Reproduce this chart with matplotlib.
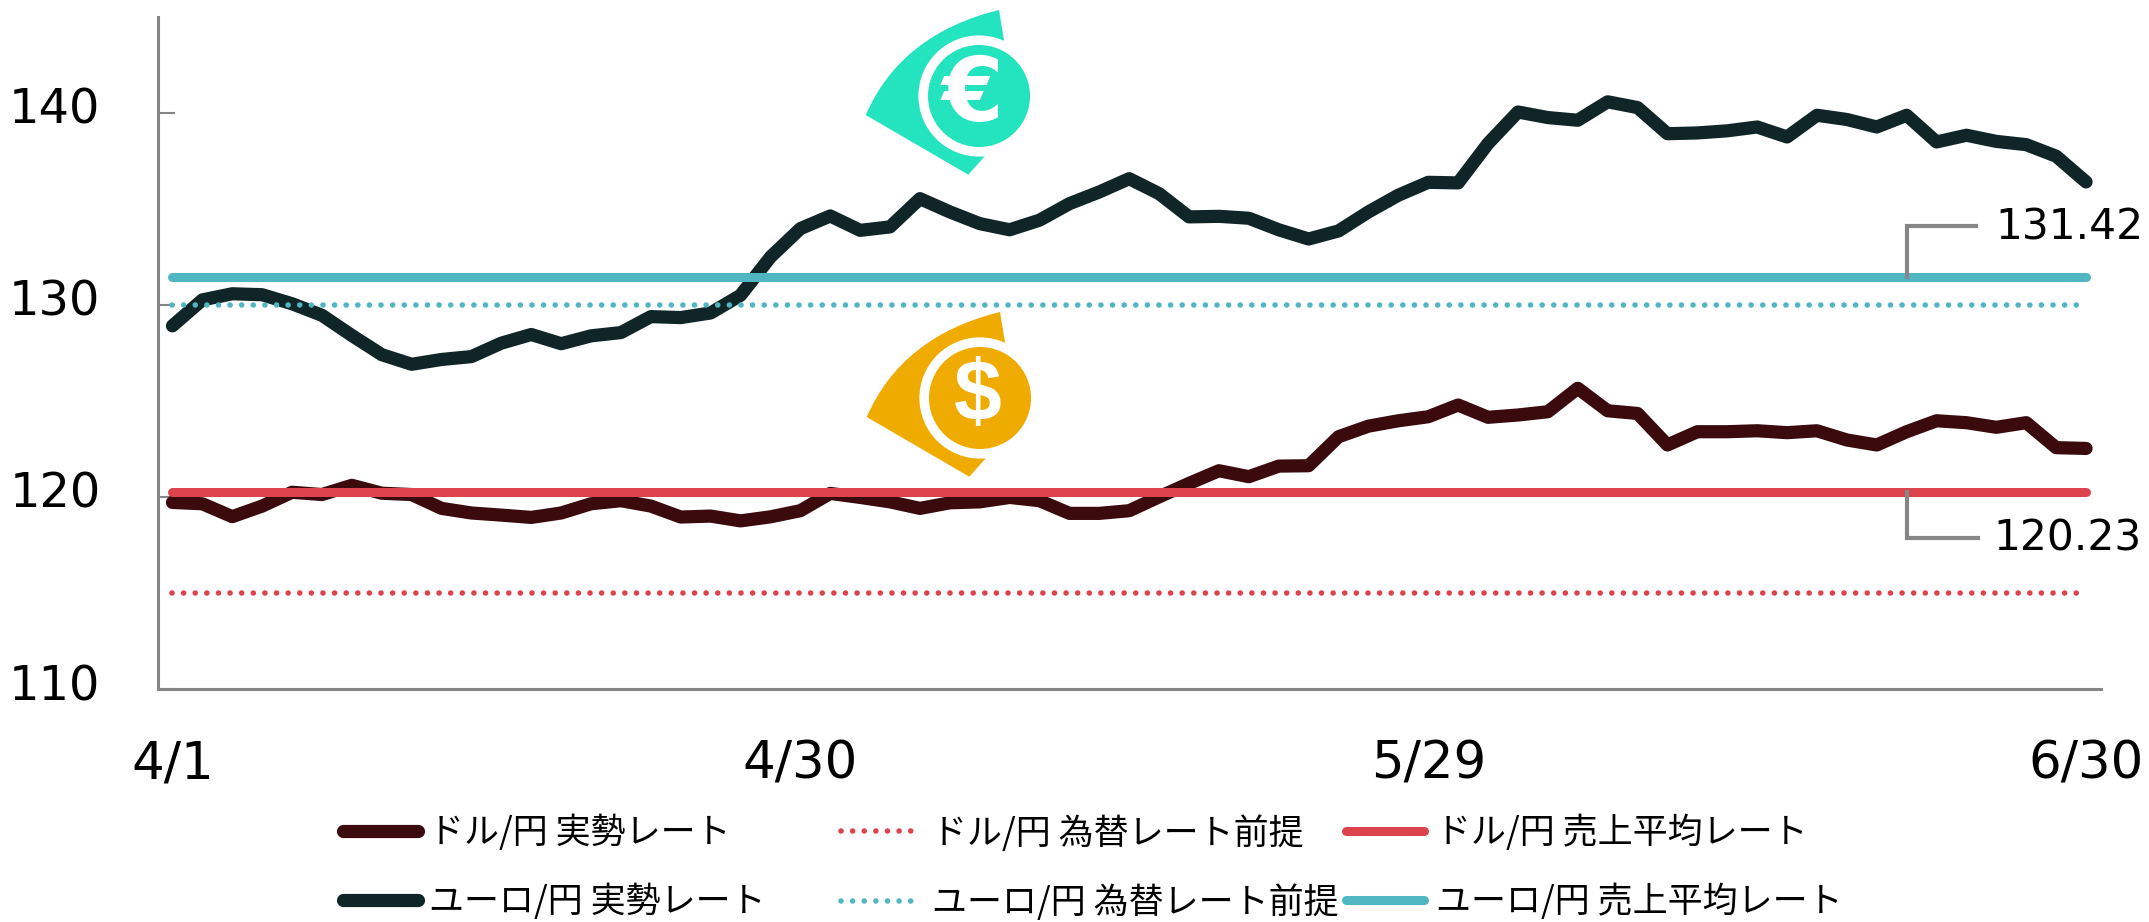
import numpy as np
import matplotlib
matplotlib.use("Agg")
import matplotlib.pyplot as plt
from matplotlib.font_manager import FontProperties
from matplotlib.legend_handler import HandlerLine2D
from matplotlib.patches import PathPatch, Circle
from matplotlib.path import Path
from matplotlib.transforms import Affine2D, ScaledTranslation

W, H = 2149, 922

usd_actual = [119.71,119.64,118.97,119.52,120.24,120.12,120.60,120.19,120.12,119.40,119.16,119.05,118.93,119.16,119.64,119.80,119.52,118.95,119.00,
              118.75,118.96,119.28,120.18,119.97,119.74,119.40,119.69,119.74,119.97,119.80,119.14,119.14,119.28,120.00,120.70,121.36,121.05,121.60,121.62,123.13,123.68,123.96,124.17,
              124.78,124.14,124.26,124.43,125.65,124.48,124.34,122.70,123.39,123.39,123.44,123.34,123.44,122.96,122.70,123.39,123.96,123.86,123.62,123.86,122.56,122.52]
eur_actual = [128.90,130.25,130.57,130.52,130.05,129.45,128.40,127.40,126.90,127.15,127.30,128.00,128.45,127.97,128.38,128.55,129.38,129.33,129.57,
              130.49,132.48,133.96,134.62,133.87,134.05,135.52,134.83,134.22,133.90,134.40,135.26,135.87,136.56,135.78,134.57,134.60,134.50,133.90,133.42,133.84,134.83,135.70,136.37,
              136.34,138.39,140.03,139.74,139.60,140.56,140.26,138.90,138.94,139.05,139.25,138.73,139.86,139.64,139.25,139.86,138.47,138.82,138.50,138.33,137.73,136.39]
usd_assumed = 115.0
eur_assumed = 130.0
usd_average = 120.23
eur_average = 131.42
x_tick_index = [0, 21, 42, 64]
x_tick_labels = ["4/1", "4/30", "5/29", "6/30"]
y_ticks = [110, 120, 130, 140]
labels = ["ドル/円 実勢レート", "ユーロ/円 実勢レート", "ドル/円 為替レート前提", "ユーロ/円 為替レート前提",
          "ドル/円 売上平均レート", "ユーロ/円 売上平均レート"]

C_USD, C_EUR = "#3A0A0D", "#0F2528"
C_RED, C_TEAL = "#DC434C", "#4FB6C2"
C_GREY = "#868686"

plt.rcParams["font.family"] = ["DejaVu Sans"]
fig = plt.figure(figsize=(W / 100, H / 100), dpi=100)
L, R, T, B = 157.5, 2101, 16.5, 689
ax = fig.add_axes([L / W, 1 - B / H, (R - L) / W, (B - T) / H])
x = np.arange(len(usd_actual))
dots = (0, (0.01, 2.08))

l_usd, = ax.plot(x, usd_actual, color=C_USD, lw=9.5, solid_capstyle="round", solid_joinstyle="round", zorder=3)
l_eur, = ax.plot(x, eur_actual, color=C_EUR, lw=9.5, solid_capstyle="round", solid_joinstyle="round", zorder=3)
l_ua, = ax.plot(x, np.full(len(x), usd_average), color=C_RED, lw=6.5, solid_capstyle="round", zorder=4)
l_ea, = ax.plot(x, np.full(len(x), eur_average), color=C_TEAL, lw=6.5, solid_capstyle="round", zorder=4)
l_us, = ax.plot(x, np.full(len(x), usd_assumed), color=C_RED, lw=4, ls=dots, dash_capstyle="round", zorder=5)
l_es, = ax.plot(x, np.full(len(x), eur_assumed), color=C_TEAL, lw=4, ls=dots, dash_capstyle="round", zorder=5)

ax.set_xlim(-0.5, len(x) - 0.5)
ax.set_ylim(110, 145)
for s in ("top", "right"):
    ax.spines[s].set_visible(False)
for s in ("left", "bottom"):
    ax.spines[s].set_color(C_GREY)
    ax.spines[s].set_linewidth(2.2)
ax.set_yticks(y_ticks)
ax.tick_params(axis="y", direction="in", length=12, width=1.5, color=C_GREY, pad=41, labelsize=34.5)
ax.set_xticks(x_tick_index, x_tick_labels)
ax.tick_params(axis="x", length=0, pad=36.5, labelsize=37)
shift = ScaledTranslation(0, 7.5 / 100, fig.dpi_scale_trans)
for t in ax.get_yticklabels():
    t.set_transform(t.get_transform() + shift)

# value call-outs
ax.plot([58, 58, 60.33], [eur_average, 134.1, 134.1], color=C_GREY, lw=3, zorder=6, solid_joinstyle="miter")
ax.text(60.97, 134.0, f"{eur_average:.2f}", fontsize=30.5, va="center", ha="left", zorder=6)
ax.plot([58, 58, 60.4], [usd_average, 117.86, 117.86], color=C_GREY, lw=3, zorder=6, solid_joinstyle="miter")
ax.text(60.9, 117.85, f"{usd_average:.2f}", fontsize=30.5, va="center", ha="left", zorder=6)

# currency icons (pixel space of the figure)
px = Affine2D().scale(1, -1).translate(0, H)
FAN_V = [(-113.3, 19), (-78, -62), (20, -86), (25.3, -54), (6, 60), (-10.7, 78.7), (-113.3, 19)]
FAN_C = [Path.MOVETO, Path.CURVE3, Path.CURVE3, Path.LINETO, Path.LINETO, Path.LINETO, Path.CLOSEPOLY]

def icon(cx, cy, color, symbol, size, family, dx):
    verts = np.array(FAN_V) + (cx, cy)
    fig.add_artist(PathPatch(Path(verts, FAN_C), fc=color, ec="none", transform=px))
    fig.add_artist(Circle((cx, cy), 60.6, fc="white", ec="none", transform=px))
    fig.add_artist(Circle((cx, cy), 51, fc=color, ec="none", transform=px))
    fig.text((cx + dx) / W, 1 - cy / H, symbol, color="white", fontsize=size, fontweight="bold",
             family=family, ha="center", va="center")

icon(979, 96, "#24E3BF", "€", 64, "DejaVu Sans", -6)
icon(980, 398, "#F0AB00", "$", 62, "Liberation Sans", -2)

# legend: three separate columns
prop = FontProperties(family=["Noto Sans CJK JP", "DejaVu Sans"], size=25.2)
hmap = HandlerLine2D(ypad=-0.36)
cols = [([l_usd, l_eur], labels[0:2], 342.5, 2.15, 0.32),
        ([l_us, l_es], labels[2:4], 841, 2.15, 0.45),
        ([l_ua, l_ea], labels[4:6], 1346, 2.24, 0.32)]
for hs, ls, xp, hl, hp in cols:
    fig.legend(hs, ls, loc="upper left", bbox_to_anchor=(xp / W, 1 - 815 / H), frameon=False, prop=prop,
               borderpad=0, borderaxespad=0, handlelength=hl, handletextpad=hp, labelspacing=0.93,
               handler_map={h: hmap for h in hs})

fig.savefig("out.png", dpi=100)
